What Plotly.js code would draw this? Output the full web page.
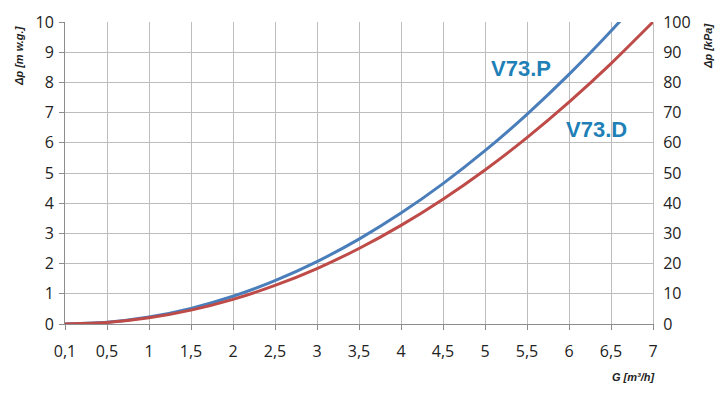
<!DOCTYPE html>
<html><head><meta charset="utf-8">
<script src="https://cdn.plot.ly/plotly-3.0.1.min.js"></script>
<style>html,body{margin:0;padding:0;background:#fff}#c{width:717px;height:398px}</style>
</head><body><div id="c"></div>
<script>
const flowLabels = ["0,1","0,5","1","1,5","2","2,5","3","3,5","4","4,5","5","5,5","6","6,5","7"];
const v73P = [0.002,0.057,0.23,0.517,0.918,1.435,2.066,2.812,3.673,4.649,5.739,6.944,8.264,9.70,11.25];
const v73D = [0.002,0.051,0.204,0.459,0.816,1.276,1.837,2.5,3.265,4.133,5.102,6.173,7.347,8.622,10.0];
const leftTicks = [0,1,2,3,4,5,6,7,8,9,10];
const rightTicks = [0,10,20,30,40,50,60,70,80,90,100];

const L=65,R=653,T=22,B=324,W=717,H=398;
const px=(x)=>(x-L)/(R-L), py=(y)=>(B-y)/(B-T);
const tickFont={family:"Open Sans, Noto Sans, sans-serif",size:16,color:"#222"};
const titleFont={family:"Liberation Sans, Arial, sans-serif",size:11,color:"#222",weight:"bold",style:"italic"};
const lblFont={family:"Liberation Sans, Arial, sans-serif",size:22,color:"#1e80b6",weight:"bold"};

const traces=[
 {x:flowLabels,y:v73P,type:"scatter",mode:"lines",line:{color:"#4a7ebb",width:3,shape:"spline",smoothing:0.6},name:"V73.P",hoverinfo:"skip"},
 {x:flowLabels,y:v73D,type:"scatter",mode:"lines",line:{color:"#be4b48",width:3,shape:"spline",smoothing:0.6},name:"V73.D",hoverinfo:"skip"},
 {x:flowLabels,y:v73D.map(v=>v*10),yaxis:"y2",type:"scatter",mode:"lines",line:{width:0},opacity:0,hoverinfo:"skip",name:"kPa"}
];
const layout={
 width:W,height:H,margin:{l:L,r:W-R,t:T,b:H-B},paper_bgcolor:"#fff",plot_bgcolor:"#fff",showlegend:false,
 xaxis:{type:"category",categoryarray:flowLabels,range:[0,14],showgrid:true,gridcolor:"#bdbdbd",gridwidth:1,
   showline:true,linecolor:"#8c8c8c",linewidth:1,ticks:"outside",ticklen:5,tickcolor:"#8c8c8c",tickfont:tickFont,zeroline:false,ticklabelstandoff:8},
 yaxis:{range:[0,10],tickvals:leftTicks,showgrid:true,gridcolor:"#bdbdbd",gridwidth:1,showline:true,linecolor:"#8c8c8c",linewidth:1,
   ticks:"outside",ticklen:5,tickcolor:"#8c8c8c",tickfont:tickFont,zeroline:false,ticklabelstandoff:2},
 yaxis2:{range:[0,100],tickvals:rightTicks,overlaying:"y",side:"right",showgrid:false,showline:true,linecolor:"#bdbdbd",ticks:"",tickfont:tickFont,zeroline:false,ticklabelstandoff:6},
 annotations:[
  {text:"Δp [m w.g.]",xref:"paper",yref:"paper",x:px(19),y:py(56),xanchor:"center",yanchor:"middle",textangle:-90,showarrow:false,font:titleFont},
  {text:"Δp [kPa]",xref:"paper",yref:"paper",x:px(708),y:py(47),xanchor:"center",yanchor:"middle",textangle:-90,showarrow:false,font:titleFont},
  {text:"G [m³/h]",xref:"paper",yref:"paper",x:px(656),xanchor:"right",y:py(377),yanchor:"middle",showarrow:false,font:titleFont},
  {text:"V73.P",xref:"paper",yref:"paper",x:px(521),y:py(68.5),xanchor:"center",yanchor:"middle",showarrow:false,font:lblFont},
  {text:"V73.D",xref:"paper",yref:"paper",x:px(596),y:py(129),xanchor:"center",yanchor:"middle",showarrow:false,font:lblFont}
 ]
};
Plotly.newPlot("c",traces,layout,{staticPlot:true});
</script></body></html>
